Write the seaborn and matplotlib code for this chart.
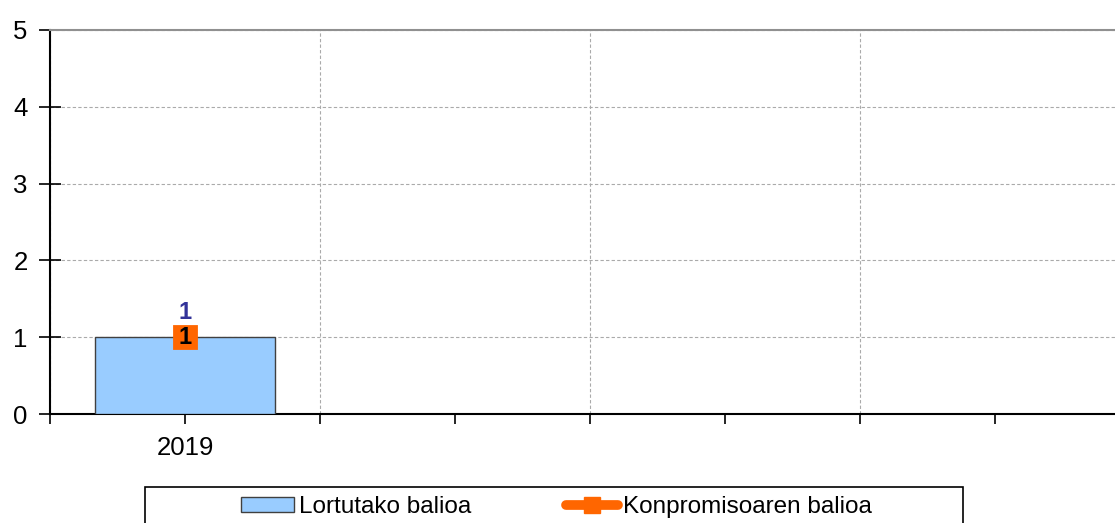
import matplotlib
matplotlib.use("Agg")
import matplotlib.pyplot as plt
import seaborn as sns
import pandas as pd
from matplotlib.patches import Patch, Rectangle
from matplotlib.lines import Line2D

# ---- data ----
years = ["2019"]
achieved = [1]
commitment = [1]
y_ticks = [0, 1, 2, 3, 4, 5]
series_names = ["Lortutako balioa", "Konpromisoaren balioa"]

bar_color = "#99CCFF"
line_color = "#FF6600"

sns.set_style("white")
plt.rcParams['font.family'] = ['Liberation Sans', 'DejaVu Sans']
plt.rcParams['text.color'] = 'black'
plt.rcParams['xtick.color'] = 'black'
plt.rcParams['ytick.color'] = 'black'

fig = plt.figure(figsize=(11.15, 5.23), dpi=100)
ax = fig.add_axes([50 / 1115, 109 / 523, 1 - 50 / 1115, (414 - 30) / 523])

df_bar = pd.DataFrame({"year": years, "value": achieved})
df_line = pd.DataFrame({"year": years, "value": commitment})

sns.barplot(data=df_bar, x="year", y="value", color=bar_color, saturation=1,
            edgecolor="#404040", linewidth=1.0, width=0.667, ax=ax, zorder=3)
sns.pointplot(data=df_line, x="year", y="value", color=line_color, markers="s",
              markersize=16, linestyles="-", ax=ax, zorder=4, errorbar=None)

# value labels
for i, v in enumerate(achieved):
    ax.annotate(str(v), (i, v), xytext=(0, 18), textcoords="offset points",
                ha="center", va="center", fontsize=17, fontweight="bold",
                color="#333399", zorder=6)
for i, v in enumerate(commitment):
    ax.annotate(str(v), (i, v), xytext=(0, 0), textcoords="offset points",
                ha="center", va="center", fontsize=17, fontweight="bold",
                color="black", zorder=6)

# y ticks
ax.set_yticks(y_ticks)
ax.set_yticklabels([str(t) for t in y_ticks])
ax.tick_params(axis="y", direction="inout", length=16, width=1.2, labelsize=18.5,
               pad=8, color="black", labelcolor="black", left=True)
ax.yaxis.grid(True, linestyle=(0, (3, 2)), color="#AAAAAA", linewidth=0.8)

# x ticks: boundaries (major, with grid) and centres (minor, with labels)
bounds = [-0.5, 0.5, 1.5, 2.5]
centres = [0, 1, 2, 3]
ax.set_xticks(bounds)
ax.set_xticklabels([""] * len(bounds))
ax.set_xticks(centres, minor=True)
ax.set_xticklabels(years + [""] * (len(centres) - len(years)), minor=True)
ax.tick_params(axis="x", which="both", direction="out", length=7, width=1.2,
               color="black", labelcolor="black", bottom=True, labelsize=18.5)
ax.tick_params(axis="x", which="minor", pad=9)
ax.xaxis.grid(True, which="major", linestyle=(0, (3, 2)), color="#AAAAAA",
              linewidth=0.8)
ax.set_axisbelow(True)
ax.set_xlabel("")
ax.set_ylabel("")

# axes limits (after ticks so they are not expanded)
ax.set_ylim(0, 5)
ax.set_xlim(-0.5, (1115 - 50) / 270 - 0.5)

for s in ["left", "bottom"]:
    ax.spines[s].set_color("black")
    ax.spines[s].set_linewidth(1.5)
ax.spines["right"].set_visible(False)
ax.spines["top"].set_color("#909090")
ax.spines["top"].set_linewidth(1.5)

# legend
handles = [
    Patch(facecolor=bar_color, edgecolor="#404040", linewidth=1.0),
    Line2D([0], [0], color=line_color, linewidth=7, solid_capstyle="round",
           marker="s", markersize=12, markerfacecolor=line_color,
           markeredgecolor=line_color),
]
fig.legend(handles, series_names, loc="center",
           bbox_to_anchor=(556.5 / 1115, 16 / 523), ncol=2, frameon=False,
           fontsize=17.5, handlelength=2.15, handleheight=0.55, handletextpad=0.2,
           columnspacing=3.9, labelcolor="black")
fig.patches.append(Rectangle((145 / 1115, -0.05), 818 / 1115, 36 / 523 + 0.05,
                             transform=fig.transFigure, fill=False,
                             edgecolor="black", linewidth=1.2))

fig.savefig("out.png", dpi=100)
